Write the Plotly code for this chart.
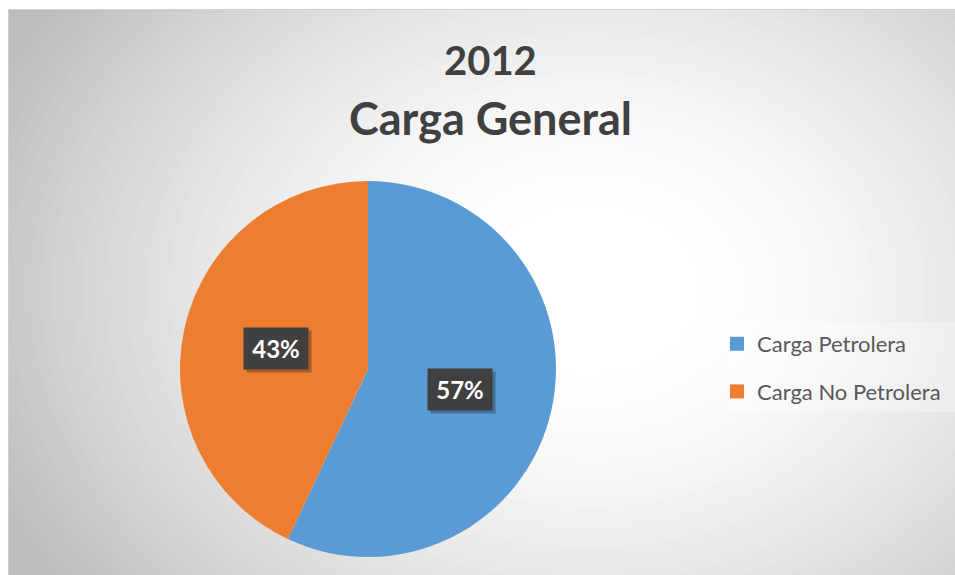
import math
import plotly.graph_objects as go

# ---- data ----
categories = ["Carga Petrolera", "Carga No Petrolera"]
values = [57, 43]
colors = ["#5B9BD5", "#ED7D31"]
title_lines = ["2012", "Carga General"]

W, H = 955, 575


def px(x):
    return x / W


def py(y):
    return 1 - y / H


FONT = "Lato, 'Open Sans', sans-serif"

# pie geometry (pixels)
cx, cy, r = 368, 369, 188

fig = go.Figure()
fig.add_trace(go.Pie(
    labels=categories, values=values, sort=False, direction="clockwise", rotation=0,
    marker=dict(colors=colors, line=dict(color="white", width=0)),
    textinfo="none", hoverinfo="label+percent",
    domain=dict(x=[px(cx - r), px(cx + r)], y=[py(cy + r), py(cy - r)]),
    showlegend=False,
))
# legend entries (one per category, so the row gap can be set)
for lab, col in zip(categories, colors):
    fig.add_trace(go.Scatter(
        x=[None], y=[None], mode="markers", name=lab, legendgroup=lab,
        marker=dict(symbol="square", size=14, color=col), hoverinfo="skip",
    ))

shapes = []
# radial gradient background of the chart area
gx, gy, s = 590, 290, 1.3
dark = 188


def shade(d):
    t = min(max((d - 100) / 560, 0), 1)
    v = round(255 - (255 - dark) * t ** 1.5)
    return f"rgb({v},{v},{v})"


shapes.append(dict(type="rect", xref="paper", yref="paper", x0=0, x1=1, y0=0, y1=1,
                   fillcolor=shade(2000), line=dict(width=0), layer="below"))
N = 60
for i in range(N):
    R = 720 - i * (720 - 90) / (N - 1)
    shapes.append(dict(type="circle", xref="paper", yref="paper",
                       x0=px(gx - R), x1=px(gx + R), y0=py(gy + R / s), y1=py(gy - R / s),
                       fillcolor=shade(R), line=dict(width=0), layer="below"))
# white page margin left/top
shapes.append(dict(type="rect", xref="paper", yref="paper", x0=0, x1=px(8), y0=0, y1=1,
                   fillcolor="white", line=dict(width=0), layer="below"))
shapes.append(dict(type="rect", xref="paper", yref="paper", x0=0, x1=1, y0=py(9), y1=1,
                   fillcolor="white", line=dict(width=0), layer="below"))
# frame border
shapes.append(dict(type="rect", xref="paper", yref="paper", x0=px(8.5), x1=px(960), y0=py(580), y1=py(9.5),
                   fillcolor="rgba(0,0,0,0)", line=dict(width=1, color="#d0d0d0"), layer="below"))
# legend box
shapes.append(dict(type="rect", xref="paper", yref="paper", x0=px(727), x1=px(960), y0=py(412), y1=py(322),
                   fillcolor="rgba(255,255,255,0.3)", line=dict(width=0), layer="below"))

annotations = []
# title
annotations.append(dict(text=f"<b>{title_lines[0]}</b>", x=px(490), y=py(60), xref="paper", yref="paper",
                        showarrow=False, xanchor="center", yanchor="middle",
                        font=dict(family=FONT, size=40, color="#404040")))
annotations.append(dict(text=f"<b>{title_lines[1]}</b>", x=px(490), y=py(118), xref="paper", yref="paper",
                        showarrow=False, xanchor="center", yanchor="middle",
                        font=dict(family=FONT, size=45, color="#404040")))

# data labels: placed on each slice's bisector at half radius
total = sum(values)
cum = 0
for v in values:
    theta = 2 * math.pi * (cum + v / 2) / total
    cum += v
    lx = cx + 0.5 * r * math.sin(theta)
    ly = cy - 0.5 * r * math.cos(theta)
    pct = f"{round(100 * v / total)}%"
    annotations.append(dict(text="", x=px(lx + 3), y=py(ly + 3), xref="paper", yref="paper",
                            showarrow=False, width=64, height=41, borderpad=0,
                            bgcolor="rgba(0,0,0,0.28)", xanchor="center", yanchor="middle"))
    annotations.append(dict(text=f"<b>{pct}</b>", x=px(lx), y=py(ly), xref="paper", yref="paper",
                            showarrow=False, width=64, height=41, borderpad=0,
                            bgcolor="#404040", xanchor="center", yanchor="middle",
                            font=dict(family=FONT, size=24, color="white")))

fig.update_layout(
    width=W, height=H,
    margin=dict(l=0, r=0, t=0, b=0),
    paper_bgcolor="white", plot_bgcolor="rgba(0,0,0,0)",
    xaxis=dict(visible=False), yaxis=dict(visible=False),
    shapes=shapes, annotations=annotations,
    showlegend=True,
    legend=dict(x=px(717), y=py(368), xanchor="left", yanchor="middle",
                traceorder="grouped", tracegroupgap=16,
                bgcolor="rgba(0,0,0,0)", font=dict(family=FONT, size=22, color="#595959")),
)

fig.write_html("out.html")
